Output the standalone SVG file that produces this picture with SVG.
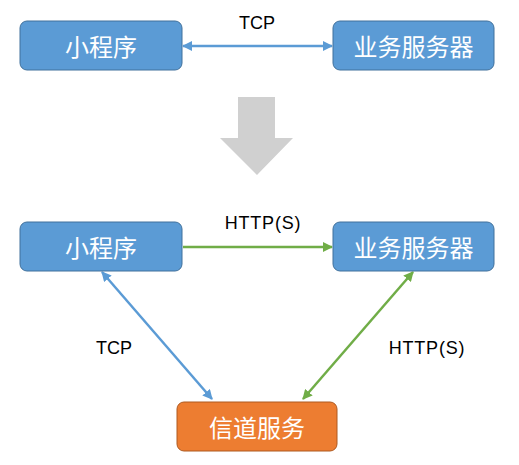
<svg xmlns="http://www.w3.org/2000/svg" width="519" height="465" viewBox="0 0 519 465">
<style>
.blue{fill:#5B9BD5;stroke:#41719C;stroke-width:1}
.orange{fill:#ED7D31;stroke:#AE5A21;stroke-width:1}
.nt{font-family:"Noto Sans CJK SC","Liberation Sans",sans-serif;font-size:24px;fill:#fff;text-anchor:middle;dominant-baseline:central}
.lb{font-family:"Liberation Sans","Noto Sans CJK SC",sans-serif;font-size:18px;fill:#000;text-anchor:middle}
.cb{stroke:#5B9BD5;stroke-width:2.5;fill:none}
.cg{stroke:#70AD47;stroke-width:2.5;fill:none}
</style>
<defs>
<marker id="ab" viewBox="0 0 10 10" refX="9" refY="5" markerWidth="4" markerHeight="4" orient="auto-start-reverse" markerUnits="strokeWidth"><path d="M0,0 L10,5 L0,10 z" fill="#5B9BD5"/></marker>
<marker id="ag" viewBox="0 0 10 10" refX="9" refY="5" markerWidth="4" markerHeight="4" orient="auto-start-reverse" markerUnits="strokeWidth"><path d="M0,0 L10,5 L0,10 z" fill="#70AD47"/></marker>
</defs>
<rect width="519" height="465" fill="#fff"/>
<g id="connectors">
<line class="cb" x1="183" y1="46" x2="332" y2="46" marker-start="url(#ab)" marker-end="url(#ab)"/>
<line class="cg" x1="183" y1="247" x2="332" y2="247" marker-end="url(#ag)"/>
<line class="cb" x1="102" y1="272" x2="212" y2="399" marker-start="url(#ab)" marker-end="url(#ab)"/>
<line class="cg" x1="413" y1="272" x2="303" y2="399" marker-start="url(#ag)" marker-end="url(#ag)"/>
<text class="lb" x="257" y="29">TCP</text>
<text class="lb" x="263" y="229" letter-spacing="0.8">HTTP(S)</text>
<text class="lb" x="114" y="354">TCP</text>
<text class="lb" x="427" y="354" letter-spacing="0.8">HTTP(S)</text>
</g>
<g id="bigarrow">
<polygon points="238,97 275,97 275,138 293,138 257,175 220,138 238,138" fill="#D0D0D0"/>
</g>
<g id="n1"><rect class="blue" x="20" y="21" width="162" height="49" rx="7"/><text class="nt" x="101" y="45.5">小程序</text></g>
<g id="n2"><rect class="blue" x="333" y="21" width="161" height="49" rx="7"/><text class="nt" x="413.5" y="45.5">业务服务器</text></g>
<g id="n3"><rect class="blue" x="20" y="222" width="162" height="49" rx="7"/><text class="nt" x="101" y="246.5">小程序</text></g>
<g id="n4"><rect class="blue" x="333" y="222" width="161" height="49" rx="7"/><text class="nt" x="413.5" y="246.5">业务服务器</text></g>
<g id="n5"><rect class="orange" x="177" y="402" width="160" height="49" rx="7"/><text class="nt" x="257" y="426.5">信道服务</text></g>
</svg>
